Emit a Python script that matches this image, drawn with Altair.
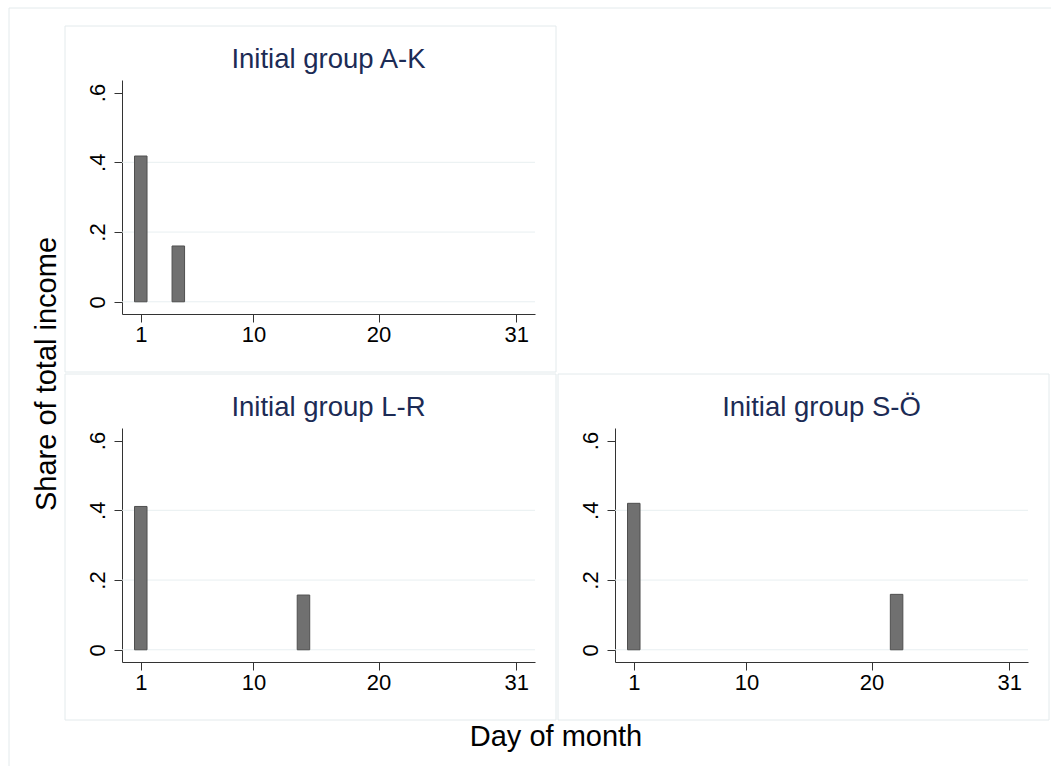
import altair as alt
import pandas as pd

# ---- data ----
groups = ["Initial group A-K", "Initial group L-R", "Initial group S-Ö"]
days = [[1, 4], [1, 14], [1, 22]]
shares = [[0.418, 0.160], [0.411, 0.157], [0.420, 0.159]]
x_ticks = [1, 10, 20, 31]
y_ticks = [0, 0.2, 0.4, 0.6]
y_tick_labels = ["0", ".2", ".4", ".6"]
grid_values = [0, 0.2, 0.4]
x_title = "Day of month"
y_title = "Share of total income"

# ---- styling ----
FONT = "Liberation Sans"
W, H = 413, 234
BAR = "#707070"
EDGE = "#4f4f4f"
GRID = "#e8eff1"
BOX = "#e3eaec"
TITLE_C = "#1c2b55"
AXIS_C = "#333333"

label_expr = "[{}][indexof([{}], datum.value)]".format(
    ",".join("'%s'" % s for s in y_tick_labels), ",".join(str(v) for v in y_ticks)
)

xaxis = alt.Axis(values=x_ticks, title=None, grid=False, labelAngle=0, labelPadding=2,
                 tickSize=8, labelFlush=False, labelOverlap=False)
yaxis = alt.Axis(values=y_ticks, title=None, grid=False, labelAngle=270, labelAlign="center",
                 labelBaseline="alphabetic", labelPadding=9.5, tickSize=8,
                 labelExpr=label_expr, labelOverlap=False, labelFlush=False)

one = pd.DataFrame({"k": [0]})


def panel(i, extra):
    df = pd.DataFrame({"day": days[i], "share": shares[i]})
    xs = alt.Scale(domain=[-0.5, 32.5], nice=False, zero=False)
    ys = alt.Scale(domain=[-0.035, 0.636], nice=False, zero=False)
    box = alt.Chart(one).mark_rect(fillOpacity=0, stroke=BOX, strokeWidth=1).encode(
        x=alt.value(-57), x2=alt.value(434), y=alt.value(-54), y2=alt.value(H + 58))
    grid = alt.Chart(pd.DataFrame({"g": grid_values})).mark_rule(color=GRID, strokeWidth=1).encode(
        y=alt.Y("g:Q", scale=ys, axis=yaxis))
    bars = alt.Chart(df).transform_calculate(
        lo="datum.day - 0.5", hi="datum.day + 0.5"
    ).mark_rect(fill=BAR, stroke=EDGE, strokeWidth=1).encode(
        x=alt.X("lo:Q", scale=xs, axis=xaxis), x2="hi:Q",
        y=alt.Y("share:Q", scale=ys, axis=yaxis), y2=alt.datum(0))
    title = alt.Chart(pd.DataFrame({"t": [groups[i]]})).mark_text(
        font=FONT, fontSize=27.5, color=TITLE_C, align="center", baseline="alphabetic"
    ).encode(x=alt.value(W / 2), y=alt.value(-12), text="t:N")
    return alt.layer(box, grid, bars, title, *extra).properties(width=W, height=H)


outer_left = alt.Chart(one).mark_rule(color=BOX, strokeWidth=1).encode(
    x=alt.value(-113), y=alt.value(-72), y2=alt.value(686))
outer_top = alt.Chart(one).mark_rule(color=BOX, strokeWidth=1).encode(
    x=alt.value(-113), x2=alt.value(929), y=alt.value(-72))

xt = alt.Chart(pd.DataFrame({"t": [x_title]})).mark_text(
    font=FONT, fontSize=29, color="black", align="center", baseline="alphabetic"
).encode(x=alt.value(434), y=alt.value(318), text="t:N")
yt = alt.Chart(pd.DataFrame({"t": [y_title]})).mark_text(
    font=FONT, fontSize=29, color="black", align="center", baseline="alphabetic", angle=270
).encode(x=alt.value(-66), y=alt.value(-54), text="t:N")

p1 = panel(0, [outer_left, outer_top])
p2 = panel(1, [xt, yt])
p3 = panel(2, [])

row2 = alt.hconcat(p2, p3, spacing=80, bounds="flush")
chart = alt.vconcat(p1, row2, spacing=114, bounds="flush").properties(
    padding={"left": 8, "top": 7, "right": 0, "bottom": 0},
    background="white",
).configure_view(strokeWidth=0).configure_axis(
    domainColor=AXIS_C, tickColor=AXIS_C, labelColor="black", labelFont=FONT,
    labelFontSize=22, domainWidth=1, tickWidth=1,
)

chart.save("out.html", embed_options={"renderer": "svg", "actions": False})
